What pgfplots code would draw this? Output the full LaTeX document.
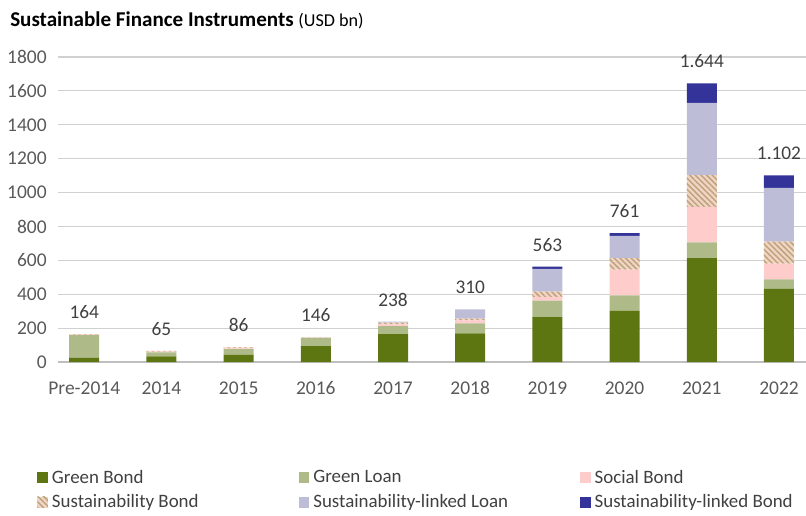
\documentclass[border=0pt]{standalone}
\usepackage{pgfplots}
\pgfplotsset{compat=1.18}
\usepackage{fontspec}
\setmainfont{Carlito}
\usetikzlibrary{patterns.meta}
\definecolor{gbond}{HTML}{5E7612}
\definecolor{gloan}{HTML}{AEBA88}
\definecolor{sbond}{HTML}{FFCCCC}
\definecolor{susb}{HTML}{F4D3C4}
\definecolor{susline}{HTML}{B9A57C}
\definecolor{sll}{HTML}{BDBDD7}
\definecolor{slb}{HTML}{333399}
\definecolor{tickgray}{HTML}{595959}
\definecolor{labgray}{HTML}{404040}
\definecolor{gridgray}{HTML}{D0D0D0}
\definecolor{basegray}{HTML}{BFBFBF}
\begin{document}
\begin{tikzpicture}
\useasboundingbox (0,0) rectangle (604.5pt,386.25pt);
\node[anchor=base west, inner sep=0pt] at (7.5pt,366pt) {\fontsize{15.8}{18}\selectfont\bfseries Sustainable Finance Instruments \fontsize{13.6}{15}\mdseries\selectfont(USD bn)};
\begin{axis}[
  at={(43.5pt,114.75pt)}, anchor=south west,
  scale only axis, width=561pt, height=228.75pt,
  ybar stacked, bar width=22.5pt,
  xmin=-0.34, xmax=9.35, ymin=0, ymax=1800,
  ytick={0,200,...,1800},
  xtick={0,...,9},
  xticklabels={Pre-2014,2014,2015,2016,2017,2018,2019,2020,2021,2022},
  axis line style={draw=none},
  tick style={draw=none},
  ymajorgrids, grid style={gridgray, line width=0.9pt},
  extra y ticks={0}, extra y tick labels={}, extra y tick style={grid style={basegray, line width=1.1pt}},
  /pgf/number format/assume math mode=true,
  /pgf/number format/1000 sep={},
  ticklabel style={font=\fontsize{14.6}{17}\selectfont, text=tickgray},
  yticklabel shift=5pt,
  xticklabel shift=11pt,
  legend columns=3,
  legend cell align=left,
  legend style={at={(-0.028,-0.345)}, anchor=north west, draw=none, fill=none,
    font=\fontsize{14.2}{16}\selectfont, text=labgray, inner sep=0pt, row sep=3pt},
  legend image code/.code={\draw[#1, draw=none] (0pt,-4pt) rectangle (8pt,4pt);},
]
\addplot[fill=gbond, draw=none] coordinates {(0,25) (1,33) (2,43) (3,94) (4,165) (5,169) (6,265) (7,303) (8,613) (9,432)};
\addlegendentry{\makebox[184pt][l]{\hspace{1pt}Green Bond}}
\addplot[fill=gloan, draw=none] coordinates {(0,133) (1,24) (2,33) (3,48) (4,47) (5,59) (6,97) (7,90) (8,93) (9,56)};
\addlegendentry{\makebox[199pt][l]{\hspace{1pt}Green Loan}}
\addplot[fill=sbond, draw=none] coordinates {(0,3) (1,4) (2,5) (3,2) (4,10) (5,18) (6,23) (7,152) (8,210) (9,92)};
\addlegendentry{\hspace{1pt}Social Bond}
\addplot[fill=susb, draw=none, postaction={pattern={Lines[angle=-45,distance=3pt,line width=1.1pt]}, pattern color=susline}] coordinates {(0,3) (1,4) (2,5) (3,2) (4,10) (5,10) (6,30) (7,68) (8,187) (9,130)};
\addlegendentry{\hspace{1pt}Sustainability Bond}
\addplot[fill=sll, draw=none] coordinates {(0,0) (1,0) (2,0) (3,0) (4,6) (5,54) (6,135) (7,132) (8,427) (9,318)};
\addlegendentry{\hspace{1pt}Sustainability-linked Loan}
\addplot[fill=slb, draw=none] coordinates {(0,0) (1,0) (2,0) (3,0) (4,0) (5,0) (6,13) (7,16) (8,114) (9,74)};
\addlegendentry{\hspace{1pt}Sustainability-linked Bond}
\end{axis}
\begin{axis}[
  at={(43.5pt,114.75pt)}, anchor=south west,
  scale only axis, width=561pt, height=228.75pt,
  xmin=-0.34, xmax=9.35, ymin=0, ymax=1800,
  hide axis, clip=false,
]
\addplot[draw=none, mark=none, point meta=explicit symbolic,
  nodes near coords, nodes near coords style={anchor=center, yshift=16.5pt, text=labgray, font=\fontsize{14.5}{16}\selectfont}]
  coordinates {(0,164)[164] (1,65)[65] (2,86)[86] (3,146)[146] (4,238)[238] (5,310)[310] (6,563)[563] (7,761)[761] (8,1644)[1.644] (9,1102)[1.102]};
\end{axis}
\end{tikzpicture}
\end{document}
